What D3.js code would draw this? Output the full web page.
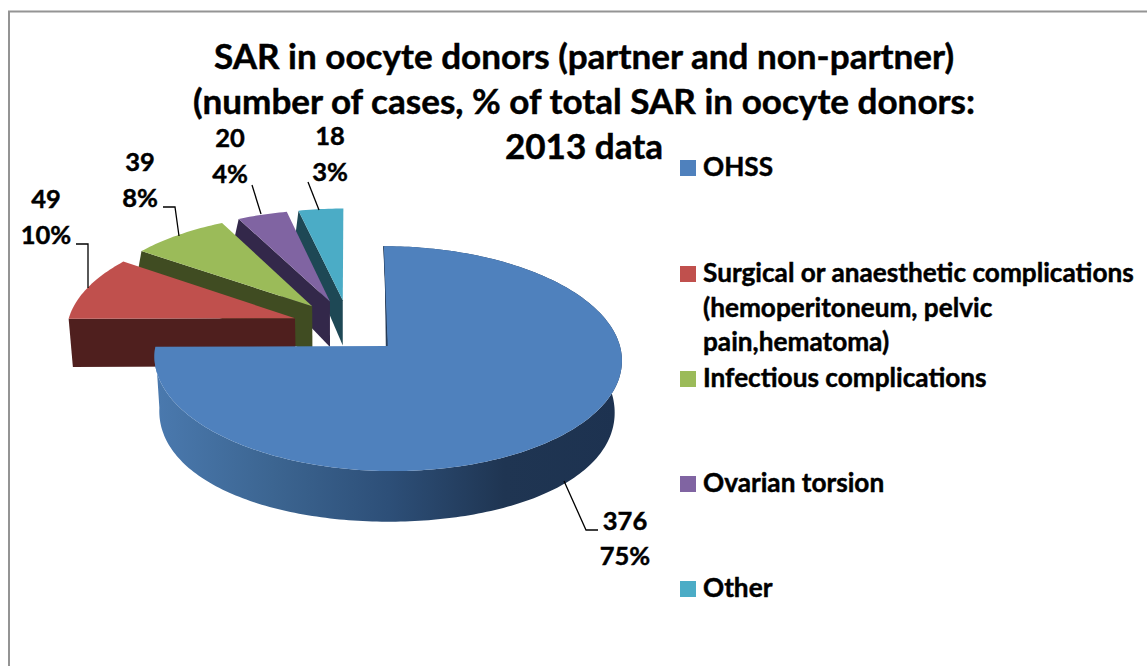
<!DOCTYPE html>
<html><head><meta charset="utf-8">
<style>html,body{margin:0;padding:0;background:#fff}svg{display:block}text{font-family:Lato,"Open Sans",sans-serif;font-weight:700;fill:#000;stroke:#000;stroke-width:0.45px}</style>
<script src="https://cdn.jsdelivr.net/npm/d3@7/dist/d3.min.js"></script>
</head><body><svg id="c" width="1147" height="666"></svg>
<script>
const categories = ["OHSS","Surgical or anaesthetic complications (hemoperitoneum, pelvic pain,hematoma)","Infectious complications","Ovarian torsion","Other"];
const values = [376,49,39,20,18];
const percents = ["75%","10%","8%","4%","3%"];
const titleLines = ["SAR in oocyte donors (partner and non-partner)","(number of cases, % of total SAR in oocyte donors:","2013 data"];
const legendLines = [["OHSS"],["Surgical or anaesthetic complications","(hemoperitoneum, pelvic","pain,hematoma)"],["Infectious complications"],["Ovarian torsion"],["Other"]];
const faceColors = ["#4f81bd","#c0504d","#9bbb59","#8064a2","#4bacc6"];
const wallColors = ["#1f3552","#4f1f1e","#404c22","#33284a","#1e4855"];
const explodes = [0.235,0.25,0.25,0.25,0.25];

const svg = d3.select("#c");
const FONT_TITLE = 35.1, FONT = 25.5, FONT_LEGEND = 26.2;

// frame
svg.append("path").attr("d","M9 666V11.5H1147").attr("fill","none").attr("stroke","#949494").attr("stroke-width",2);

// projection of the tilted pie plane
const P = {cx:349, top:{R:228,k:0.11,b:107,cy:326}, bot:{R:223.5,k:0.04,b:120,cy:375}};
const MAIN_BOTTOM_R = 226, MAIN_BULGE = 12;
function proj(X,Y,pl,R){const w=1+pl.k*Y;return [P.cx+(R||pl.R)*X/w, pl.cy-pl.b*Y/w];}
const arcs = d3.pie().sort(null).startAngle(0).endAngle(2*Math.PI)(values);
const pt = (a,d,r,pl)=>{ // point at angle a, radius r of slice d, on plane pl
  const m=(d.startAngle+d.endAngle)/2, e=explodes[d.index];
  const isMainBottom = d.index===0 && pl===P.bot;
  const p=proj(e*Math.sin(m)+r*Math.sin(a), e*Math.cos(m)+r*Math.cos(a), pl, isMainBottom?MAIN_BOTTOM_R:0);
  if(d.index===0 && pl===P.top) p[1]+=2;
  if(isMainBottom) p[1]+=MAIN_BULGE*r*Math.sin(a)*Math.sin(a);
  return p;
};
const line = d3.line();
const steps = (a0,a1)=>{const n=Math.max(2,Math.ceil(Math.abs(a1-a0)/0.02));return d3.range(n+1).map(i=>a0+(a1-a0)*i/n);};

const defs = svg.append("defs");
const grad = defs.append("linearGradient").attr("id","wall").attr("gradientUnits","userSpaceOnUse")
  .attr("x1",157).attr("x2",620).attr("y1",0).attr("y2",0);
[[0,"#4a79ae"],[0.25,"#3c6591"],[0.5,"#2d4f78"],[0.75,"#1f3552"],[1,"#1d3250"]].forEach(s=>grad.append("stop").attr("offset",s[0]).attr("stop-color",s[1]));

// back to front: last slice first
const order = d3.range(arcs.length).reverse();
order.forEach(i=>{
  const d=arcs[i], g=svg.append("g");
  if(i===0){
    const as=steps(0,d.endAngle);
    const poly=as.map(a=>pt(a,d,1,P.top)).concat(as.slice().reverse().map(a=>pt(a,d,1,P.bot)));
    g.append("path").attr("d",line(poly)+"Z").attr("fill","url(#wall)");
    g.append("path").attr("d",line([pt(0,d,1,P.top),pt(0,d,1,P.bot),pt(0,d,0,P.bot),pt(0,d,0,P.top)])+"Z")
      .attr("fill",wallColors[0]).attr("stroke",wallColors[0]).attr("stroke-width",1);
  } else {
    const a=d.startAngle;
    g.append("path").attr("d",line([pt(a,d,1,P.top),pt(a,d,1,P.bot),pt(a,d,0,P.bot),pt(a,d,0,P.top)])+"Z").attr("fill",wallColors[i]);
  }
  const top=[pt(0,d,0,P.top)].concat(steps(d.startAngle,d.endAngle).map(a=>pt(a,d,1,P.top)));
  g.append("path").attr("d",line(top)+"Z").attr("fill",faceColors[i]);
});

// title
svg.append("g").selectAll("text").data(titleLines).join("text")
  .attr("x",584).attr("y",(d,i)=>69+i*45).attr("text-anchor","middle").attr("font-size",FONT_TITLE).text(d=>d);

// leaders and data labels
const labelLayout = [
  {x:625,y:[530,565],leader:[[564,481],[586,530],[598,530]]},
  {x:46,y:[208,244],leader:[[88,288],[88,244],[76,244]]},
  {x:140,y:[171,207],leader:[[179,236],[175,207],[163,207]]},
  {x:230,y:[147,183],leader:[[261,214],[252,185]]},
  {x:330,y:[145,181],leader:[[319,210],[308,182]]}
];
labelLayout.forEach((l,i)=>{
  svg.append("path").attr("d",line(l.leader)).attr("fill","none").attr("stroke","#000").attr("stroke-width",1.3);
  [String(values[i]),percents[i]].forEach((t,j)=>svg.append("text").attr("x",l.x).attr("y",l.y[j]).attr("text-anchor","middle").attr("font-size",FONT).text(t));
});

// legend
const legendY=[176,282,387,492,597], lineStep=34.5;
const lg=svg.append("g").selectAll("g").data(categories).join("g");
lg.append("rect").attr("x",680).attr("y",(d,i)=>legendY[i]-16).attr("width",16).attr("height",16).attr("fill",(d,i)=>faceColors[i]);
lg.each(function(d,i){
  d3.select(this).selectAll("text").data(legendLines[i]).join("text")
    .attr("x",703).attr("y",(t,j)=>legendY[i]+j*lineStep).attr("font-size",FONT_LEGEND).text(t=>t);
});
</script></body></html>
